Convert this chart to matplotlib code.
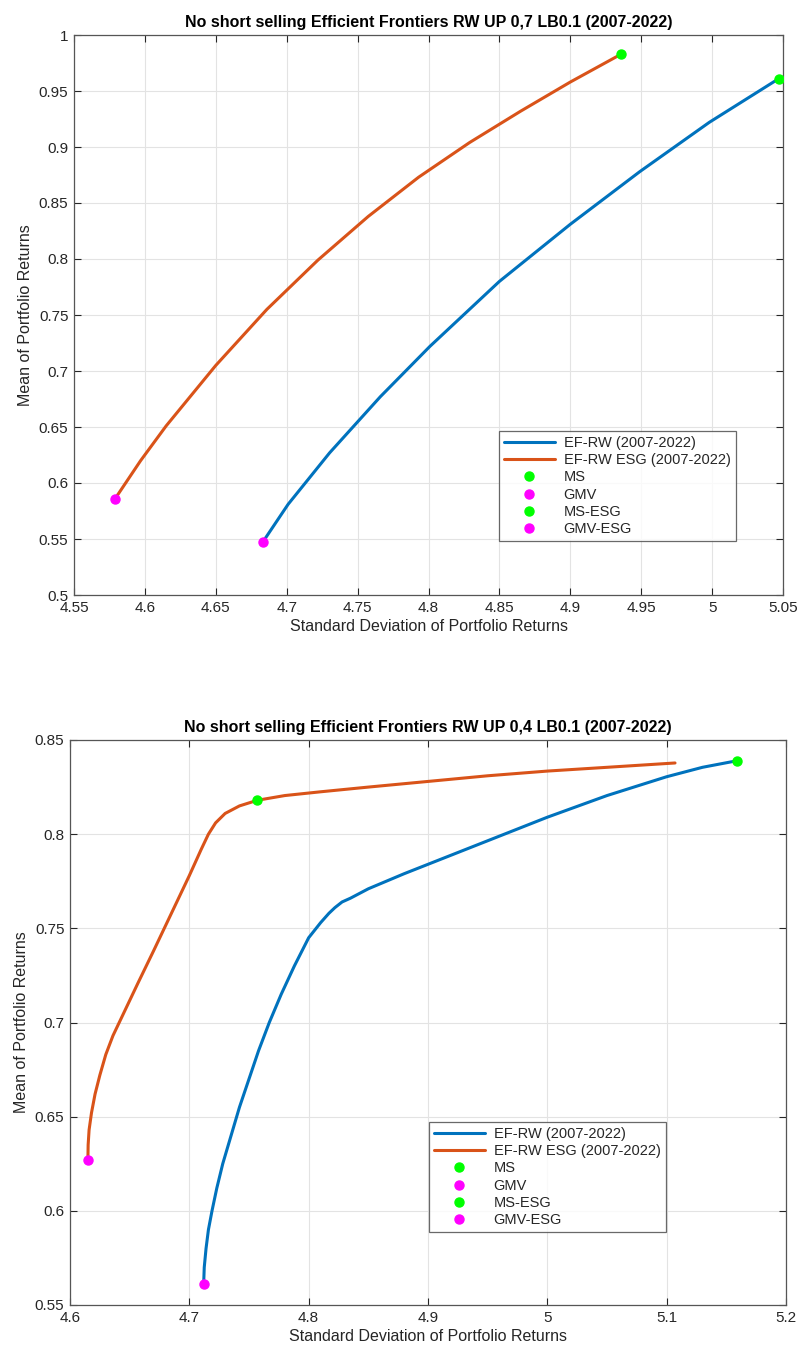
import matplotlib
matplotlib.use("Agg")
import matplotlib.pyplot as plt
from matplotlib.ticker import MultipleLocator, FuncFormatter

plt.rcParams['font.family'] = ['Liberation Sans', 'DejaVu Sans']

# ---- Panel 1: upper bound 0.7, lower bound 0.1 ----
top_ef_sd = [4.683, 4.701, 4.7303, 4.766, 4.801, 4.850, 4.900, 4.949, 4.998, 5.047]
top_ef_mu = [0.547, 0.581, 0.627, 0.677, 0.722, 0.780, 0.831, 0.878, 0.922, 0.961]
top_esg_sd = [4.579, 4.597, 4.615, 4.650, 4.686, 4.722, 4.7575, 4.793, 4.829, 4.865,
              4.900, 4.936]
top_esg_mu = [0.586, 0.620, 0.651, 0.705, 0.755, 0.799, 0.838, 0.873, 0.904, 0.932,
              0.958, 0.983]
top_ms = (5.047, 0.961)
top_gmv = (4.683, 0.547)
top_ms_esg = (4.936, 0.983)
top_gmv_esg = (4.579, 0.586)

# ---- Panel 2: upper bound 0.4, lower bound 0.1 ----
bot_ef_sd = [4.712, 4.7125, 4.714, 4.716, 4.719, 4.723, 4.728, 4.735, 4.742, 4.750,
             4.758, 4.767, 4.777, 4.788, 4.800, 4.810, 4.817, 4.822, 4.828, 4.835,
             4.850, 4.880, 4.920, 4.960, 5.000, 5.050, 5.100, 5.130, 5.159]
bot_ef_mu = [0.561, 0.570, 0.580, 0.590, 0.600, 0.612, 0.625, 0.640, 0.655, 0.670,
             0.685, 0.700, 0.715, 0.730, 0.745, 0.753, 0.758, 0.761, 0.764, 0.766,
             0.771, 0.779, 0.789, 0.799, 0.809, 0.8205, 0.8305, 0.8355, 0.839]
bot_esg_sd = [4.615, 4.6152, 4.616, 4.618, 4.621, 4.625, 4.630, 4.636, 4.645, 4.657,
              4.670, 4.685, 4.700, 4.710, 4.716, 4.722, 4.730, 4.742, 4.757, 4.780,
              4.810, 4.850, 4.900, 4.950, 5.000, 5.050, 5.107]
bot_esg_mu = [0.627, 0.635, 0.643, 0.652, 0.662, 0.672, 0.683, 0.693, 0.705, 0.721,
              0.738, 0.758, 0.778, 0.792, 0.800, 0.806, 0.811, 0.815, 0.818, 0.8205,
              0.8225, 0.825, 0.828, 0.831, 0.8335, 0.8355, 0.8378]
bot_ms = (5.159, 0.839)
bot_gmv = (4.712, 0.561)
bot_ms_esg = (4.757, 0.818)
bot_gmv_esg = (4.615, 0.627)

labels = ['EF-RW (2007-2022)', 'EF-RW ESG (2007-2022)', 'MS', 'GMV', 'MS-ESG', 'GMV-ESG']
titles = ['No short selling Efficient Frontiers RW UP 0,7 LB0.1 (2007-2022)',
          'No short selling Efficient Frontiers RW UP 0,4 LB0.1 (2007-2022)']

BLUE = '#0072BD'
ORANGE = '#D95319'
GREEN = '#00FF00'
MAGENTA = '#FF00FF'
AX_COLOR = '#262626'

fig = plt.figure(figsize=(8, 13.55), dpi=100)
W, H = 800, 1355


def axes_px(left, top, right, bottom):
    return fig.add_axes([left / W, 1 - bottom / H, (right - left) / W, (bottom - top) / H])


def fmt(v, pos):
    return ('%.4f' % v).rstrip('0').rstrip('.')


def draw(ax, ef_sd, ef_mu, esg_sd, esg_mu, ms, gmv, ms_esg, gmv_esg,
         xlim, ylim, xstep, ystep, title, leg_anchor):
    h1, = ax.plot(ef_sd, ef_mu, color=BLUE, lw=2.2, solid_joinstyle='round',
                  solid_capstyle='round', zorder=3)
    h2, = ax.plot(esg_sd, esg_mu, color=ORANGE, lw=2.2, solid_joinstyle='round',
                  solid_capstyle='round', zorder=3)
    mk = dict(ls='none', marker='o', ms=6.5, zorder=4)
    h3, = ax.plot([ms[0]], [ms[1]], color=GREEN, **mk)
    h4, = ax.plot([gmv[0]], [gmv[1]], color=MAGENTA, **mk)
    h5, = ax.plot([ms_esg[0]], [ms_esg[1]], color=GREEN, **mk)
    h6, = ax.plot([gmv_esg[0]], [gmv_esg[1]], color=MAGENTA, **mk)

    ax.set_xlim(*xlim)
    ax.set_ylim(*ylim)
    ax.xaxis.set_major_locator(MultipleLocator(xstep))
    ax.yaxis.set_major_locator(MultipleLocator(ystep))
    ax.xaxis.set_major_formatter(FuncFormatter(fmt))
    ax.yaxis.set_major_formatter(FuncFormatter(fmt))
    ax.grid(True, color='#e3e3e3', lw=0.8, zorder=0)
    ax.set_axisbelow(True)
    ax.tick_params(direction='in', top=True, right=True, length=5, width=0.8,
                   colors=AX_COLOR, labelsize=11, pad=4)
    for s in ax.spines.values():
        s.set_color('#555555')
        s.set_linewidth(0.9)
    ax.set_xlabel('Standard Deviation of Portfolio Returns', fontsize=11.5,
                  color=AX_COLOR, labelpad=3)
    ax.set_ylabel('Mean of Portfolio Returns', fontsize=11.5, color=AX_COLOR, labelpad=4)
    ax.set_title(title, fontsize=11.5, fontweight='bold', color='black', pad=6)

    leg = ax.legend([h1, h2, h3, h4, h5, h6], labels, loc='upper left',
                    bbox_to_anchor=leg_anchor, fontsize=10.5, frameon=True,
                    fancybox=False, handlelength=3.5, labelspacing=0.22,
                    borderpad=0.35, handletextpad=0.6, borderaxespad=0)
    leg.get_frame().set_edgecolor('#444444')
    leg.get_frame().set_linewidth(0.9)
    for t in leg.get_texts():
        t.set_color(AX_COLOR)


ax1 = axes_px(74, 35, 783, 595)
draw(ax1, top_ef_sd, top_ef_mu, top_esg_sd, top_esg_mu, top_ms, top_gmv,
     top_ms_esg, top_gmv_esg, (4.55, 5.05), (0.5, 1.0), 0.05, 0.05, titles[0],
     (0.599, 0.293))

ax2 = axes_px(70, 740, 786, 1305)
draw(ax2, bot_ef_sd, bot_ef_mu, bot_esg_sd, bot_esg_mu, bot_ms, bot_gmv,
     bot_ms_esg, bot_gmv_esg, (4.6, 5.2), (0.55, 0.85), 0.1, 0.05, titles[1],
     (0.501, 0.324))

fig.savefig('out.png', dpi=100, facecolor='white')
